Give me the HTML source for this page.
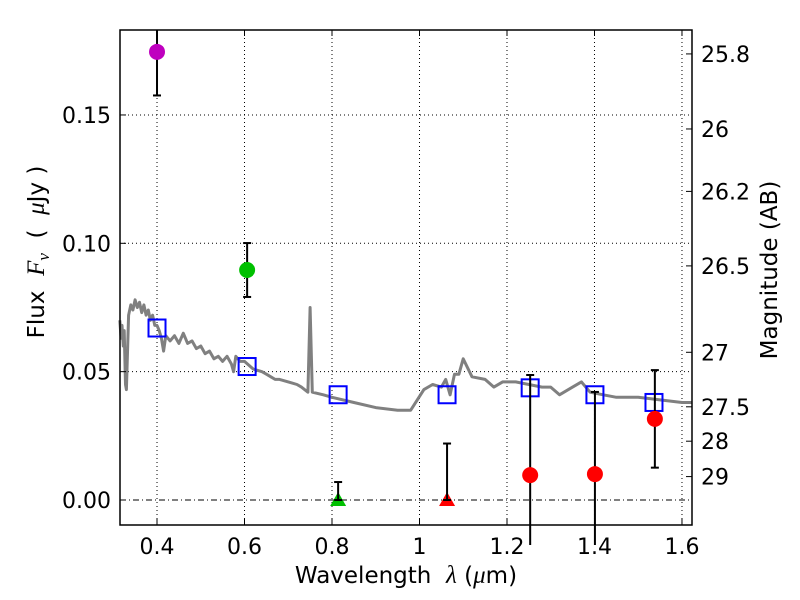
<!DOCTYPE html>
<html><head><meta charset="utf-8"><style>
body{margin:0;background:#fff;}
svg{display:block;font-family:"DejaVu Sans","Liberation Sans",sans-serif;}
.pre{white-space:pre;}
</style></head><body>
<svg id="chart" width="800" height="600" viewBox="0 0 800 600" xmlns="http://www.w3.org/2000/svg">
<rect x="0" y="0" width="800" height="600" fill="#fff"/>
<g id="grid"></g>
<g id="plot"></g>
<g id="axes"></g>
</svg>
<script>
const xTicks=[0.4,0.6,0.8,1.0,1.2,1.4,1.6];
const xTickLabels=["0.4","0.6","0.8","1","1.2","1.4","1.6"];
const yTicks=[0,0.05,0.10,0.15];
const yTickLabels=["0.00","0.05","0.10","0.15"];
const magTicks=[25.8,26,26.2,26.5,27,27.5,28,29];
const magTickLabels=["25.8","26","26.2","26.5","27","27.5","28","29"];
const specLam=[0.315,0.318,0.32,0.323,0.325,0.328,0.33,0.335,0.34,0.345,0.35,0.355,0.36,0.365,0.37,0.375,0.38,0.385,0.39,0.395,0.40,0.405,0.41,0.415,0.42,0.43,0.44,0.45,0.46,0.47,0.48,0.49,0.50,0.51,0.52,0.53,0.54,0.55,0.56,0.57,0.575,0.58,0.59,0.60,0.62,0.64,0.65,0.66,0.67,0.68,0.70,0.72,0.73,0.745,0.75,0.755,0.78,0.80,0.85,0.90,0.95,0.98,1.01,1.03,1.05,1.06,1.07,1.08,1.09,1.10,1.12,1.15,1.17,1.19,1.22,1.25,1.28,1.30,1.32,1.35,1.37,1.39,1.42,1.45,1.50,1.55,1.60,1.623];
const specFlux=[0.070,0.063,0.068,0.060,0.066,0.045,0.043,0.072,0.076,0.074,0.078,0.075,0.077,0.073,0.076,0.072,0.074,0.070,0.072,0.068,0.068,0.066,0.063,0.058,0.064,0.062,0.064,0.061,0.065,0.061,0.062,0.059,0.060,0.057,0.058,0.055,0.056,0.054,0.056,0.053,0.050,0.056,0.054,0.054,0.051,0.050,0.049,0.048,0.047,0.047,0.046,0.045,0.044,0.042,0.075,0.042,0.041,0.040,0.038,0.036,0.035,0.035,0.043,0.045,0.044,0.047,0.041,0.049,0.049,0.055,0.048,0.047,0.044,0.046,0.046,0.045,0.044,0.044,0.041,0.044,0.046,0.042,0.041,0.040,0.040,0.039,0.038,0.038];
const modelLam=[0.40,0.606,0.814,1.063,1.253,1.401,1.536];
const modelFlux=[0.067,0.052,0.041,0.041,0.0437,0.041,0.038];
const obsLam=[0.40,0.606,1.253,1.401,1.538];
const obsFlux=[0.1746,0.0896,0.0097,0.0101,0.0316];
const obsErr=[0.017,0.0105,0.039,0.032,0.019];
const obsColor=["#bf00bf","#00c000","#ff0000","#ff0000","#ff0000"];
const limLam=[0.814,1.063];
const limErr=[0.007,0.022];
const limColor=["#00c000","#ff0000"];

const X0=120,X1=692,Y0=30,Y1=525;
const xmin=0.3154,xmax=1.6229,ymin=-0.00974,ymax=0.1831;
const sx=v=>X0+(v-xmin)/(xmax-xmin)*(X1-X0);
const sy=v=>Y1-(v-ymin)/(ymax-ymin)*(Y1-Y0);
const sm=m=>sy(Math.pow(10,(23.9-m)/2.5));
const NS="http://www.w3.org/2000/svg";
function mk(tag,attrs,parent,text){const e=document.createElementNS(NS,tag);for(const k in attrs)e.setAttribute(k,attrs[k]);if(text!==undefined)e.textContent=text;parent.appendChild(e);return e;}
const grid=document.getElementById('grid'),plot=document.getElementById('plot'),axes=document.getElementById('axes');

xTicks.forEach((t,i)=>{const x=sx(t);
 const g=mk('line',{x1:x,x2:x,y1:Y0,y2:Y1,stroke:'#000','stroke-width':1,'stroke-dasharray':'1,3'},grid);
 
 
 mk('line',{x1:x,x2:x,y1:Y1,y2:Y1-6,stroke:'#000'},axes);
 mk('line',{x1:x,x2:x,y1:Y0,y2:Y0+6,stroke:'#000'},axes);
 const l=mk('text',{x:x,y:Y1+29,'font-size':22,'text-anchor':'middle'},axes,xTickLabels[i]);
 
 
});
yTicks.forEach((t,i)=>{const y=sy(t);
 const g=mk('line',{x1:X0,x2:X1,y1:y,y2:y,stroke:'#000','stroke-width':1,'stroke-dasharray':t===0?'6,3,1,3':'1,3'},grid);
 
 
 mk('line',{x1:X0,x2:X0+6,y1:y,y2:y,stroke:'#000'},axes);
 const l=mk('text',{x:X0-9,y:y+8,'font-size':22,'text-anchor':'end'},axes,yTickLabels[i]);
 
 
});
magTicks.forEach((m,i)=>{const y=sm(m);
 mk('line',{x1:X1,x2:X1-6,y1:y,y2:y,stroke:'#000'},axes);
 const l=mk('text',{x:X1+9,y:y+8,'font-size':22},axes,magTickLabels[i]);
 
 
});

let d=specLam.map((l,i)=>(i?'L':'M')+sx(l).toFixed(1)+','+sy(specFlux[i]).toFixed(1)).join(' ');
const sp=mk('path',{d:d,fill:'none',stroke:'#808080','stroke-width':3,'stroke-linejoin':'round'},plot);



modelLam.forEach((l,i)=>{
 const r=mk('rect',{x:sx(l)-8.5,y:sy(modelFlux[i])-8.5,width:17,height:17,fill:'none',stroke:'#0000ff','stroke-width':2},plot);
 
 
});

function errbar(x,ylo,yhi){
 const lo=Math.min(sy(ylo),Y1+20),hi=sy(yhi);
 mk('line',{x1:x,x2:x,y1:lo,y2:Math.max(hi,Y0),stroke:'#000','stroke-width':2},plot);
 if(hi>=Y0) mk('line',{x1:x-4,x2:x+4,y1:hi,y2:hi,stroke:'#000','stroke-width':2},plot);
 if(sy(ylo)<=Y1) mk('line',{x1:x-4,x2:x+4,y1:sy(ylo),y2:sy(ylo),stroke:'#000','stroke-width':2},plot);
}
obsLam.forEach((l,i)=>{
 errbar(sx(l),obsFlux[i]-obsErr[i],obsFlux[i]+obsErr[i]);
 const c=mk('circle',{cx:sx(l),cy:sy(obsFlux[i]),r:8,fill:obsColor[i]},plot);
 
 
});
limLam.forEach((l,i)=>{
 const x=sx(l),y=sy(0);
 const t=mk('polygon',{points:`${x-8},${y+6} ${x+8},${y+6} ${x},${y-8}`,fill:limColor[i]},plot);
 
 
 mk('line',{x1:x,x2:x,y1:y,y2:sy(limErr[i]),stroke:'#000','stroke-width':2},plot);
 mk('line',{x1:x-4,x2:x+4,y1:sy(limErr[i]),y2:sy(limErr[i]),stroke:'#000','stroke-width':2},plot);
 mk('line',{x1:x-4,x2:x+4,y1:y,y2:y,stroke:'#000','stroke-width':2},plot);
});

const fr=mk('rect',{x:X0,y:Y0,width:X1-X0,height:Y1-Y0,fill:'none',stroke:'#000','stroke-width':1.5},axes);


const xl=mk('text',{x:406,y:583,'font-size':23,'text-anchor':'middle','class':'pre'},axes);
xl.innerHTML='Wavelength  <tspan font-family="Liberation Serif,serif" font-style="italic" font-size="25">λ</tspan> (<tspan font-family="Liberation Serif,serif" font-style="italic" font-size="25">μ</tspan>m)';


const yl=mk('text',{transform:'translate(44,252) rotate(-90)','font-size':23,'text-anchor':'middle','class':'pre'},axes);
yl.innerHTML='Flux  <tspan font-family="Liberation Serif,serif" font-style="italic" font-size="25">F</tspan><tspan font-family="Liberation Serif,serif" font-style="italic" font-size="17" dy="5">ν</tspan><tspan dy="-5">  (  </tspan><tspan font-family="Liberation Serif,serif" font-style="italic" font-size="25">μ</tspan>Jy )';


const ml=mk('text',{transform:'translate(777,270) rotate(-90)','font-size':23,'text-anchor':'middle'},axes,'Magnitude (AB)');


</script>
</body></html>
